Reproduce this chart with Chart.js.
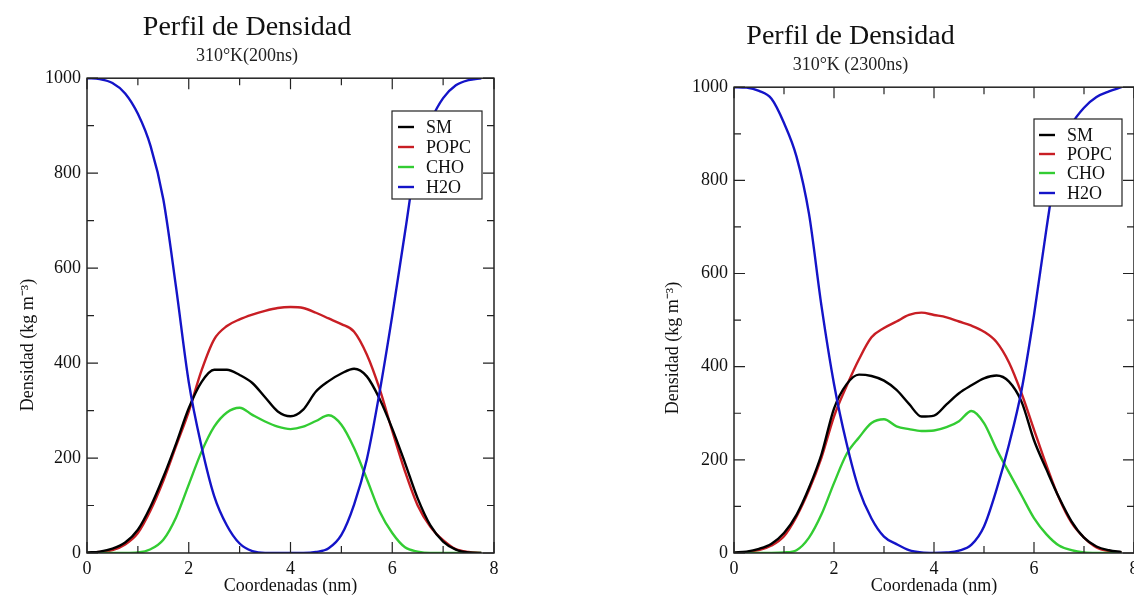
<!DOCTYPE html>
<html>
<head>
<meta charset="utf-8">
<script src="https://cdn.jsdelivr.net/npm/chart.js@4.4.0/dist/chart.umd.min.js"></script>
<style>
body { margin: 0; width: 1134px; height: 597px; overflow: hidden; background: #fff; position: relative; }
.panel { position: absolute; top: 0; }
</style>
</head>
<body>
<div class="panel" style="left:0"><canvas id="c200" width="567" height="597"></canvas></div>
<div class="panel" style="left:567px"><canvas id="c2300" width="600" height="597"></canvas></div>
<script>
// coordenada (nm)
var coords = [0, 0.25, 0.5, 0.75, 1, 1.25, 1.5, 1.75, 2, 2.25, 2.5, 2.75, 3, 3.25, 3.5, 3.75,
              4, 4.25, 4.5, 4.75, 5, 5.25, 5.5, 5.75, 6, 6.25, 6.5, 6.75, 7, 7.25, 7.5, 7.75];
var seriesNames = ['SM', 'POPC', 'CHO', 'H2O'];

// 310 K, 200 ns
var sm200   = [1, 3, 9, 22, 49, 98, 160, 230, 305, 360, 386, 386, 375, 358, 328, 298, 288, 302, 340, 362, 378, 388, 372, 325, 262, 190, 115, 58, 24, 7, 1, 0];
var popc200 = [0, 2, 6, 18, 42, 90, 152, 225, 298, 384, 450, 478, 492, 502, 510, 516, 518, 516, 506, 494, 482, 466, 418, 346, 257, 172, 100, 55, 27, 8, 2, 0];
var cho200  = [0, 0, 0, 0, 1, 8, 28, 75, 144, 213, 266, 296, 306, 291, 277, 266, 261, 266, 278, 290, 270, 221, 156, 88, 42, 12, 3, 0, 0, 0, 0, 0];
var h2o200  = [1000, 998, 990, 968, 925, 857, 745, 560, 360, 225, 120, 58, 20, 4, 0, 0, 0, 0, 2, 10, 38, 102, 197, 338, 500, 675, 845, 910, 958, 985, 996, 1000];

// 310 K, 2300 ns
var sm2300   = [1, 3, 9, 20, 43, 82, 140, 212, 310, 362, 383, 380, 370, 350, 320, 293, 295, 319, 343, 360, 375, 381, 368, 325, 242, 179, 119, 68, 33, 14, 6, 2];
var popc2300 = [0, 2, 6, 16, 36, 78, 135, 205, 293, 358, 416, 463, 483, 497, 511, 516, 511, 506, 497, 488, 475, 453, 409, 343, 265, 188, 118, 65, 33, 12, 4, 1];
var cho2300  = [0, 0, 0, 0, 1, 6, 33, 83, 150, 212, 248, 279, 287, 272, 266, 262, 263, 270, 283, 305, 279, 223, 173, 124, 75, 40, 16, 6, 1, 0, 0, 0];
var h2o2300  = [1000, 999, 992, 975, 923, 851, 728, 530, 363, 236, 136, 74, 35, 19, 6, 1, 0, 1, 5, 18, 57, 136, 233, 349, 511, 697, 860, 920, 956, 979, 991, 1000];

var xTicks = [0, 2, 4, 6, 8];
var yTicks = [0, 200, 400, 600, 800, 1000];

var colors = ['#000000', '#c81e24', '#33cc33', '#1414c8'];
var drawOrder = [2, 4, 3, 1];
var serif = "'Liberation Serif', 'Times New Roman', serif";

function makeDatasets(series) {
  return seriesNames.map(function (name, i) {
    return {
      label: name,
      data: coords.map(function (x, j) { return { x: x, y: series[i][j] }; }),
      borderColor: colors[i],
      backgroundColor: colors[i],
      borderWidth: 2.4,
      pointRadius: 0,
      cubicInterpolationMode: 'monotone',
      order: drawOrder[i]
    };
  });
}

// closed frame with inward ticks (major + minor), legend box, y title
var framePlugin = {
  id: 'frame',
  afterDatasetsDraw: function (chart, args, opts) {
    var a = chart.chartArea, ctx = chart.ctx, sx = chart.scales.x, sy = chart.scales.y;
    ctx.save();
    ctx.strokeStyle = '#222';
    ctx.lineWidth = 1.5;
    ctx.strokeRect(a.left, a.top, a.right - a.left, a.bottom - a.top);
    ctx.lineWidth = 1.2;
    ctx.beginPath();
    var xmax = xTicks[xTicks.length - 1], ymax = yTicks[yTicks.length - 1];
    for (var v = 0; v <= xmax; v++) {
      var px = sx.getPixelForValue(v), len = v % 2 ? 7 : 11;
      ctx.moveTo(px, a.bottom); ctx.lineTo(px, a.bottom - len);
      ctx.moveTo(px, a.top); ctx.lineTo(px, a.top + len);
    }
    for (var w = 0; w <= ymax; w += 100) {
      var py = sy.getPixelForValue(w), l2 = w % 200 ? 7 : 11;
      ctx.moveTo(a.left, py); ctx.lineTo(a.left + l2, py);
      ctx.moveTo(a.right, py); ctx.lineTo(a.right - l2, py);
    }
    ctx.stroke();

    // legend
    var lg = opts.legend;
    ctx.fillStyle = '#fff';
    ctx.fillRect(lg.x, lg.y, lg.w, lg.h);
    ctx.lineWidth = 1.2;
    ctx.strokeStyle = '#222';
    ctx.strokeRect(lg.x, lg.y, lg.w, lg.h);
    ctx.font = '18px ' + serif;
    ctx.textBaseline = 'middle';
    ctx.textAlign = 'left';
    chart.data.datasets.forEach(function (ds, i) {
      var yy = lg.rows[i];
      ctx.strokeStyle = ds.borderColor;
      ctx.lineWidth = 2.4;
      ctx.beginPath();
      ctx.moveTo(lg.lineX, yy); ctx.lineTo(lg.lineX + 16, yy);
      ctx.stroke();
      ctx.fillStyle = '#111';
      ctx.fillText(ds.label, lg.textX, yy + 1);
    });

    // y axis title
    ctx.translate(opts.yTitle.x, opts.yTitle.y);
    ctx.rotate(-Math.PI / 2);
    ctx.textAlign = 'center';
    ctx.fillStyle = '#111';
    ctx.font = '18px ' + serif;
    ctx.fillText('Densidad (kg m\u207B\u00B3)', 0, 0);
    ctx.restore();
  }
};

function plainTick(value) { return String(value); }

function makeChart(id, series, subtitle, xTitle, yAxisWidth, padRight, titlePad, subPad, legend, yTitle) {
  return new Chart(document.getElementById(id).getContext('2d'), {
    type: 'line',
    data: { datasets: makeDatasets(series) },
    plugins: [framePlugin],
    options: {
      responsive: false,
      animation: false,
      layout: { padding: { left: 0, top: 0, right: padRight, bottom: 0 } },
      plugins: {
        legend: { display: false },
        tooltip: { enabled: false },
        title: {
          display: true, text: 'Perfil de Densidad', color: '#111',
          font: { family: serif, size: 28, weight: 'normal' },
          padding: titlePad
        },
        subtitle: {
          display: true, text: subtitle, color: '#222',
          font: { family: serif, size: 18 },
          padding: subPad
        },
        frame: { legend: legend, yTitle: yTitle }
      },
      scales: {
        x: {
          type: 'linear', min: xTicks[0], max: xTicks[xTicks.length - 1],
          grid: { display: false, drawTicks: false },
          border: { display: false },
          ticks: { stepSize: 2, padding: 5, color: '#111', font: { family: serif, size: 18 }, callback: plainTick },
          title: { display: true, text: xTitle, color: '#111', font: { family: serif, size: 18 }, padding: { top: 0, bottom: 0 } },
          afterFit: function (s) { s.height = 44; }
        },
        y: {
          min: yTicks[0], max: yTicks[yTicks.length - 1],
          grid: { display: false, drawTicks: false },
          border: { display: false },
          ticks: { stepSize: 200, padding: 6, color: '#111', font: { family: serif, size: 18 }, callback: plainTick },
          afterFit: function (s) { s.width = yAxisWidth; }
        }
      }
    }
  });
}

makeChart('c200', [sm200, popc200, cho200, h2o200], '310\u00B0K(200ns)', 'Coordenadas (nm)',
  87, 73, { top: 11, bottom: 1 }, { top: 0, bottom: 11 },
  { x: 392, y: 111, w: 90, h: 88, lineX: 398, textX: 426, rows: [127, 147, 167, 187] },
  { x: 28, y: 345 });

makeChart('c2300', [sm2300, popc2300, cho2300, h2o2300], '310\u00B0K (2300ns)', 'Coordenada (nm)',
  167, 33, { top: 20, bottom: 1 }, { top: 0, bottom: 11 },
  { x: 467, y: 119, w: 88, h: 87, lineX: 472, textX: 500, rows: [135, 154, 173, 193] },
  { x: 106, y: 348 });
</script>
</body>
</html>
